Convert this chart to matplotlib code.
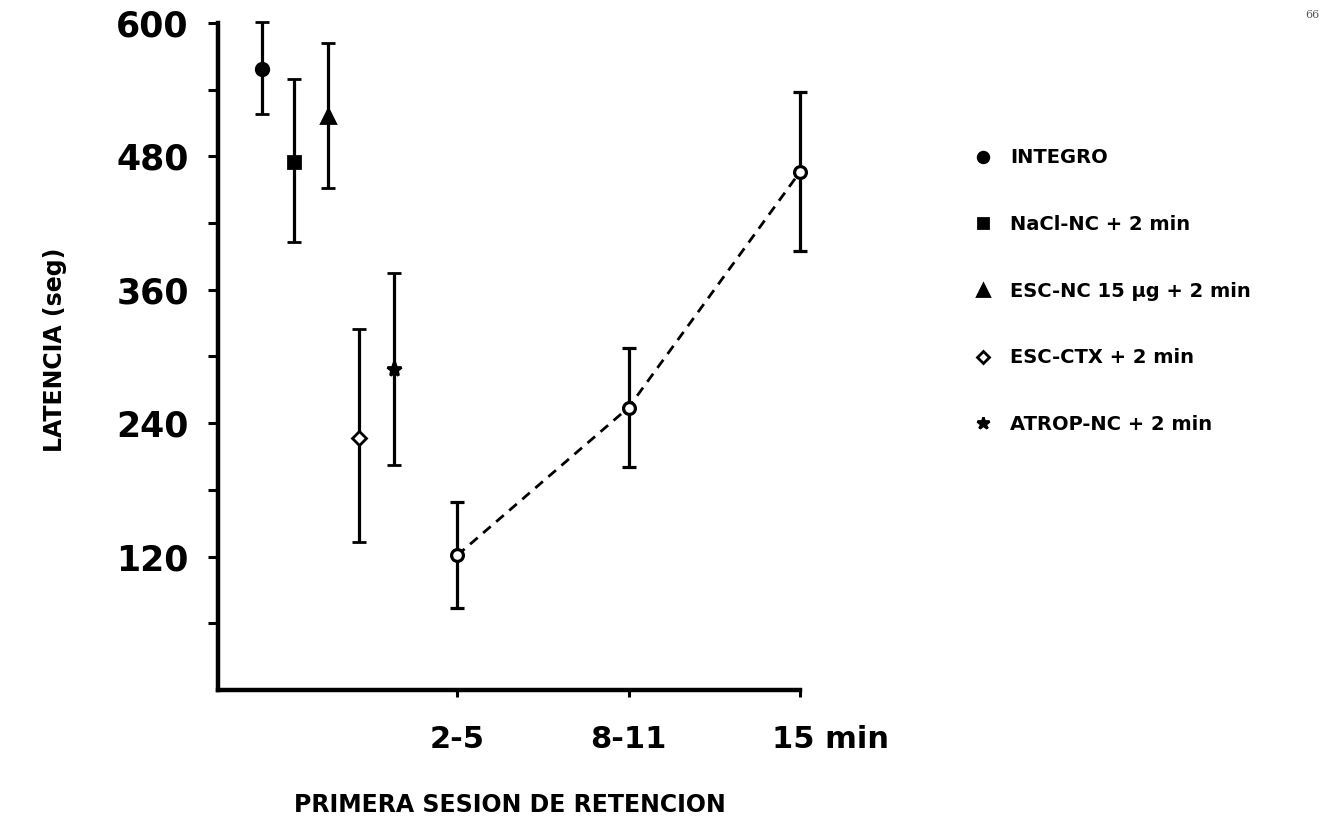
import matplotlib
matplotlib.use("Agg")
import matplotlib.pyplot as plt
from matplotlib.lines import Line2D
import matplotlib.transforms as mtransforms

# grupos de la izquierda (sin eje de tiempo)
groups = ["INTEGRO", "NaCl-NC + 2 min", "ESC-NC 15 µg + 2 min",
          "ESC-CTX + 2 min", "ATROP-NC + 2 min"]
group_x = [-0.14, 0.05, 0.25, 0.43, 0.63]
group_mean = [559, 475, 516, 227, 289]
group_upper = [601, 550, 582, 325, 375]
group_lower = [518, 403, 452, 133, 202]
group_marker = ["o", "s", "^", "D", "*"]
group_fill = ["black", "black", "black", "white", "black"]
group_msize = [9, 8.5, 10, 7.5, 11]

# serie temporal ESC-CTX
time_labels = ["2-5", "8-11", "15 min"]
time_x = [1, 2, 3]
time_mean = [121, 254, 466]
time_upper = [169, 308, 538]
time_lower = [74, 201, 395]

plt.rcParams["font.family"] = ["DejaVu Sans"]
plt.rcParams["font.weight"] = "bold"

fig = plt.figure(figsize=(13.4, 8.3), dpi=100)
ax = fig.add_axes([0.1627, 0.1687, 0.4343, 0.8036])

for x, m, hi, lo, mk, fc, ms in zip(group_x, group_mean, group_upper, group_lower,
                                    group_marker, group_fill, group_msize):
    ax.errorbar([x], [m], yerr=[[m - lo], [hi - m]], fmt=mk, color="black",
                mfc=fc, mec="black", mew=2, ms=ms, elinewidth=2.3, capsize=5,
                capthick=2.3, clip_on=False, zorder=3)

err_lo = [m - lo for m, lo in zip(time_mean, time_lower)]
err_hi = [hi - m for m, hi in zip(time_mean, time_upper)]
ax.errorbar(time_x, time_mean, yerr=[err_lo, err_hi], fmt="none", ecolor="black",
            elinewidth=2.3, capsize=5, capthick=2.3, clip_on=False, zorder=2)
ax.plot(time_x, time_mean, color="black", lw=2.0, dashes=(3.6, 2.6), marker="o",
        mfc="white", mec="black", mew=2.3, ms=8.5, clip_on=False, zorder=4)

ax.set_xlim(-0.394, 3.0)
ax.set_ylim(0, 600)
for side in ["top", "right"]:
    ax.spines[side].set_visible(False)
for side in ["left", "bottom"]:
    ax.spines[side].set_linewidth(3.2)

ax.set_yticks(range(60, 601, 60))
ax.set_yticklabels(["" if v % 120 else str(v) for v in range(60, 601, 60)])
ax.tick_params(axis="y", direction="out", length=7, width=2.2, pad=14,
               labelsize=25)
ax.set_xticks(time_x)
ax.set_xticklabels(time_labels)
ax.tick_params(axis="x", direction="out", length=5, width=2.2, pad=20,
               labelsize=22)
# "15 min": el 15 queda bajo la marca
lab = ax.get_xticklabels()[-1]
lab.set_horizontalalignment("left")
lab.set_transform(lab.get_transform() +
                  mtransforms.ScaledTranslation(-28 / 100, 0, fig.dpi_scale_trans))

fig.text(55 / 1340, 1 - 350 / 830, "LATENCIA (seg)", rotation=90,
         ha="center", va="center", fontsize=17, fontweight="semibold")
fig.text(510 / 1340, 1 - 805 / 830, "PRIMERA SESION DE RETENCION",
         ha="center", va="center", fontsize=17)
fig.text(0.985, 0.988, "66", ha="right", va="top", fontsize=8,
         family="serif", fontweight="normal", color="#555555")

handles = [Line2D([], [], ls="none", marker=mk, mfc=fc, mec="black", mew=2,
                  ms=ms * 0.85, color="black")
           for mk, fc, ms in zip(group_marker, group_fill, group_msize)]
fig.legend(handles, groups, loc="upper left",
           bbox_to_anchor=(956 / 1340, 1 - 131 / 830), frameon=False,
           fontsize=14, labelspacing=2.45, handletextpad=0.9,
           handlelength=1.0)

fig.savefig("out.png", dpi=100)
